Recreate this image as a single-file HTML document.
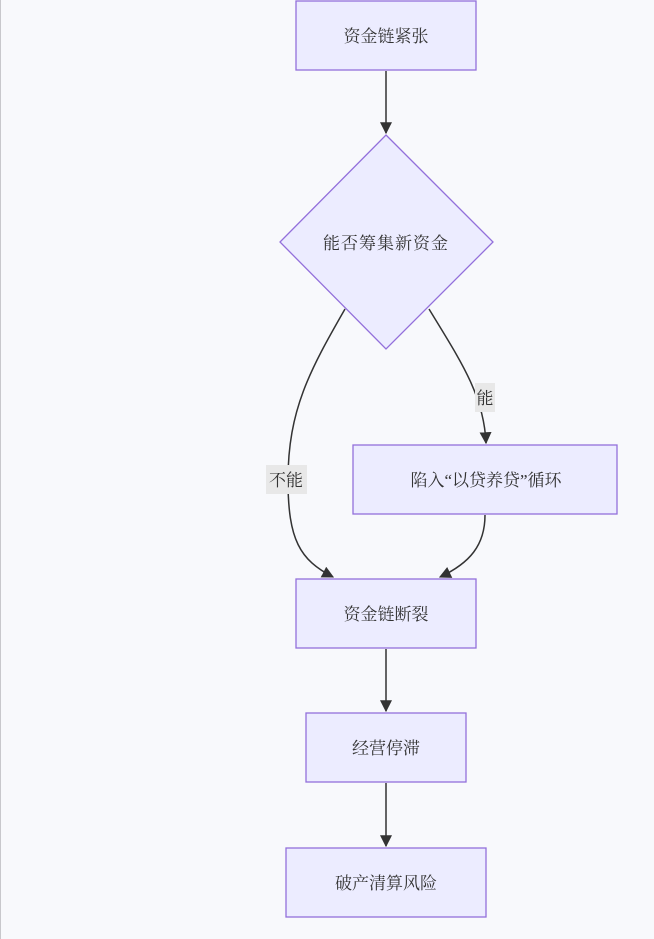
<!DOCTYPE html>
<html><head><meta charset="utf-8"><style>
body{margin:0;background:#f8f9fc;}
svg{display:block}
text{font-family:"Liberation Serif","Noto Serif CJK SC",serif;font-size:17px;fill:#333;}
</style></head><body>
<svg width="654" height="939" viewBox="0 0 654 939">
<rect x="0" y="0" width="654" height="939" fill="#f8f9fc"/>
<line x1="0.5" y1="0" x2="0.5" y2="939" stroke="#c8c8cc" stroke-width="1"/>
<defs><marker id="a" viewBox="0 0 10 10" refX="9" refY="5" markerWidth="8" markerHeight="8" orient="auto"><path d="M0,0L10,5L0,10z" fill="#333"/></marker></defs>
<g fill="none" stroke="#333" stroke-width="1.5">
<path d="M386,71V133" marker-end="url(#a)"/>
<path d="M345,309C310,370 288,410 288,480C288,540 300,560 333,577" marker-end="url(#a)"/>
<path d="M429,309C460,360 484,395 486,443" marker-end="url(#a)"/>
<path d="M485,515C485,545 470,563 440,577" marker-end="url(#a)"/>
<path d="M386,649V711" marker-end="url(#a)"/>
<path d="M386,783V846" marker-end="url(#a)"/>
</g>
<g fill="#ececff" stroke="#9370db" stroke-width="1.3">
<rect x="296" y="1" width="180" height="69"/>
<polygon points="386,135 493,242 386,349 280,242"/>
<rect x="353" y="445" width="264" height="69"/>
<rect x="296" y="579" width="180" height="69"/>
<rect x="306" y="713" width="160" height="69"/>
<rect x="286" y="848" width="200" height="69"/>
</g>
<rect x="266" y="465" width="41" height="29" fill="#e8e8e8"/>
<rect x="475" y="383" width="20" height="29" fill="#e8e8e8"/>
<g text-anchor="middle">
<text x="386" y="42">资金链紧张</text>
<text x="386" y="249" letter-spacing="1">能否筹集新资金</text>
<text x="486" y="486">陷入“以贷养贷”循环</text>
<text x="386" y="620">资金链断裂</text>
<text x="386" y="754">经营停滞</text>
<text x="386" y="889">破产清算风险</text>
<text x="286" y="486">不能</text>
<text x="485" y="404">能</text>
</g>
</svg>
</body></html>
